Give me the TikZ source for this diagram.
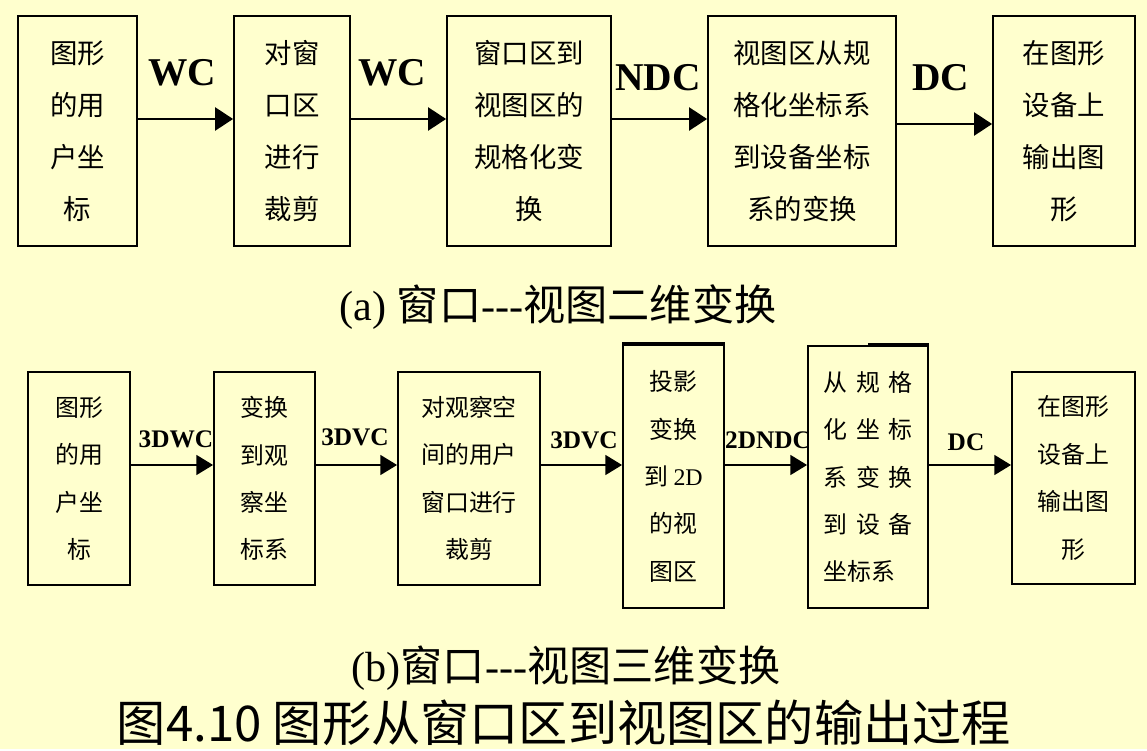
\documentclass[tikz,border=0pt]{standalone}
\usepackage{fontspec}
\setmainfont{Liberation Serif}
\newfontfamily\cjk{Noto Sans CJK SC}
\usetikzlibrary{arrows.meta}
\definecolor{paperyellow}{RGB}{255,255,206}
\newcommand{\cgap}{\hspace{0.35em}}

\begin{document}
\begin{tikzpicture}[x=0.025cm,y=-0.025cm,>={Triangle[length=0.45cm,width=0.58cm]},
  stage/.style={draw,line width=1.3pt,inner sep=0pt,align=center,font=\cjk\fontsize{19.5}{36.9}\selectfont},
  stagesm/.style={stage,font=\cjk\fontsize{17}{33.7}\selectfont},
  flow/.style={line width=1.3pt,->},
  flowsm/.style={line width=1.3pt,-{Triangle[length=0.42cm,width=0.5cm]}},
  coordlab/.style={font=\bfseries\fontsize{28}{30}\selectfont},
  coordsm/.style={font=\bfseries\fontsize{18}{20}\selectfont},
  caption/.style={font=\fontsize{30}{34}\selectfont}]
  \fill[paperyellow] (0,0) rectangle (1147,749);
  % (a) 二维
  \node[stage,minimum width=2.975cm,minimum height=5.75cm] (u1) at (77.5,131) {图形\\的用\\户坐\\标};
  \node[stage,minimum width=2.9cm,minimum height=5.75cm] (u2) at (292,131) {对窗\\口区\\进行\\裁剪};
  \node[stage,minimum width=4.1cm,minimum height=5.75cm] (u3) at (529,131) {窗口区到\\视图区的\\规格化变\\换};
  \node[stage,minimum width=4.7cm,minimum height=5.75cm] (u4) at (802,131) {视图区从规\\格化坐标系\\到设备坐标\\系的变换};
  \node[stage,minimum width=3.55cm,minimum height=5.75cm] (u5) at (1064,131) {在图形\\设备上\\输出图\\形};
  \coordinate (ya) at (0,119);
  \coordinate (yd) at (0,124);
  \draw[flow] (u1.east |- ya) -- (u2.west |- ya);
  \draw[flow] (u2.east |- ya) -- (u3.west |- ya);
  \draw[flow] (u3.east |- ya) -- (u4.west |- ya);
  \draw[flow] (u4.east |- yd) -- (u5.west |- yd);
  \node[coordlab] (wc1) at (182,73) {WC};
  \node[coordlab] (wc2) at (392,73) {WC};
  \node[coordlab] (ndc) at (658,78) {NDC};
  \node[coordlab] (dc1) at (941,78) {DC};
  \node[caption] (capa) at (558,307) {(a) {\cjk 窗口}-{}-{}-{\cjk 视图二维变换}};
  % (b) 三维
  \node[stagesm,minimum width=2.55cm,minimum height=5.325cm] (v1) at (79,478.5) {图形\\的用\\户坐\\标};
  \node[stagesm,minimum width=2.525cm,minimum height=5.325cm] (v2) at (264.5,478.5) {变换\\到观\\察坐\\标系};
  \node[stagesm,minimum width=3.55cm,minimum height=5.325cm] (v3) at (469,478.5) {对观察空\\间的用户\\窗口进行\\裁剪};
  \node[stagesm,minimum width=2.525cm,minimum height=6.575cm] (v4) at (673.5,476.5) {投影\\变换\\到 {\rmfamily 2D}\\的视\\图区};
  \node[stagesm,align=left,minimum width=3.0cm,minimum height=6.55cm] (v5) at (868,477) {从\cgap 规\cgap 格\\化\cgap 坐\cgap 标\\系\cgap 变\cgap 换\\到\cgap 设\cgap 备\\坐标系};
  \node[stagesm,minimum width=3.075cm,minimum height=5.3cm] (v6) at (1073.5,478) {在图形\\设备上\\输出图\\形};
  \draw[line width=2.6pt] (v4.north west) -- (v4.north east);
  \draw[line width=2.6pt] (v5.north) -- (v5.north east);
  \coordinate (yb) at (0,465);
  \draw[flowsm] (v1.east |- yb) -- (v2.west |- yb);
  \draw[flowsm] (v2.east |- yb) -- (v3.west |- yb);
  \draw[flowsm] (v3.east |- yb) -- (v4.west |- yb);
  \draw[flowsm] (v4.east |- yb) -- (v5.west |- yb);
  \draw[flowsm] (v5.east |- yb) -- (v6.west |- yb);
  \node[coordsm] (wc3) at (176,439) {3DWC};
  \node[coordsm] (vc1) at (355,437) {3DVC};
  \node[coordsm] (vc2) at (584,440) {3DVC};
  \node[coordsm] (ndc2) at (768,440) {2DNDC};
  \node[coordsm] (dc2) at (966,442) {DC};
  \node[caption] (capb) at (566,668) {(b){\cjk 窗口}-{}-{}-{\cjk 视图三维变换}};
  \node[font=\cjk\fontsize{35}{40}\selectfont] (title) at (564,723) {图4.10 图形从窗口区到视图区的输出过程};
\end{tikzpicture}
\end{document}
